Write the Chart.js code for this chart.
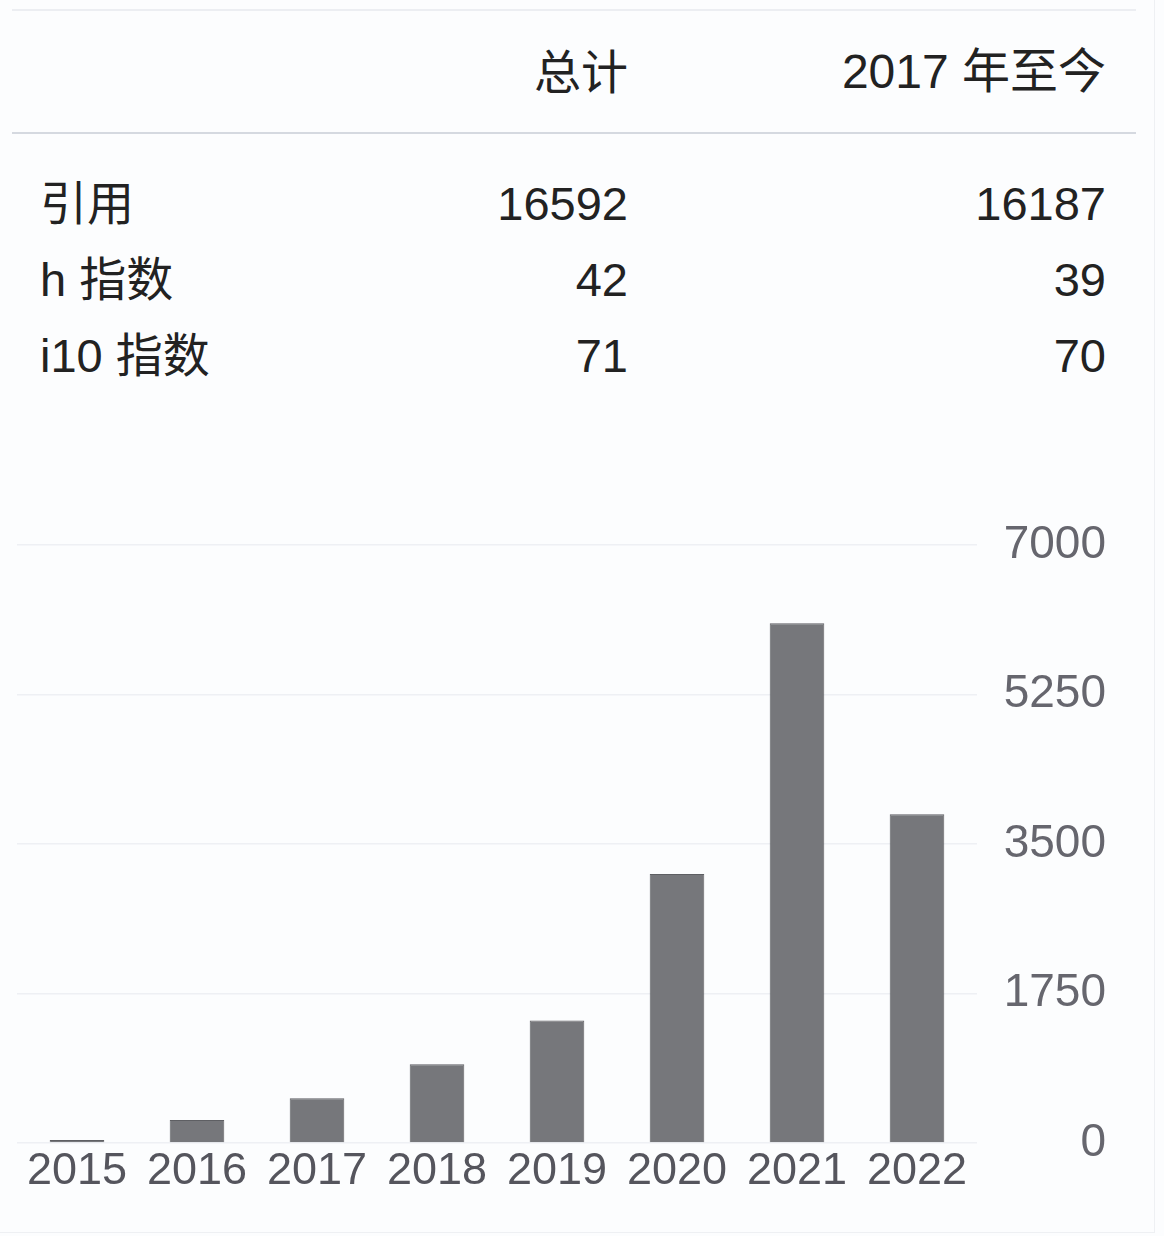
<!DOCTYPE html>
<html>
<head>
<meta charset="utf-8">
<script src="https://cdn.jsdelivr.net/npm/chart.js@4"></script>
<style>
  html, body { margin:0; padding:0; background:#fcfdfe; }
  body { width:1164px; height:1236px; position:relative; overflow:hidden;
         font-family: "Liberation Sans", Arial, "Noto Sans CJK SC", sans-serif; color:#222; }
  .frame { position:absolute; left:0; top:0; width:1154px; height:1232px;
           border-right:1px solid #eef0f3; border-bottom:1px solid #eef0f3; }
  .topline { position:absolute; left:12px; top:9px; width:1124px; height:2px; background:#eceef2; }
  .midline { position:absolute; left:12px; top:132px; width:1124px; height:2px; background:#d5d9e0; }
  .cell { position:absolute; font-size:47px; line-height:1; white-space:nowrap; }
  #wrap { position:absolute; left:0; top:502px; width:1164px; height:734px; }
</style>
</head>
<body>
<div class="frame"></div>
<div class="topline"></div>
<div class="midline"></div>
<div id="table"></div>
<div id="wrap"><canvas id="c"></canvas></div>
<script>
// ---- data ----
const headers = ["总计", "2017 年至今"];
const rowLabels = ["引用", "h 指数", "i10 指数"];
const totalValues = [16592, 42, 71];
const sinceValues = [16187, 39, 70];
const years = ["2015", "2016", "2017", "2018", "2019", "2020", "2021", "2022"];
const citations = [35, 268, 525, 922, 1435, 3150, 6085, 3848];
const yTicks = [0, 1750, 3500, 5250, 7000];

// ---- table (real text) ----
const t = document.getElementById('table');
function addCell(text, pos, top, right, size) {
  const d = document.createElement('div');
  d.className = 'cell';
  d.textContent = text;
  d.style.top = top + 'px';
  if (size) d.style.fontSize = size + 'px';
  if (right) { d.style.right = pos + 'px'; } else { d.style.left = pos + 'px'; }
  t.appendChild(d);
}
addCell(headers[0], 1164 - 628, 49, true);
addCell(headers[1], 1164 - 1106, 48, true, 48);
const rowTops = [180, 256, 332];
rowLabels.forEach((lab, i) => {
  addCell(lab, 40, rowTops[i], false);
  addCell(String(totalValues[i]), 1164 - 628, rowTops[i], true);
  addCell(String(sinceValues[i]), 1164 - 1106, rowTops[i], true);
});

// ---- chart ----
const ctx = document.getElementById('c');
new Chart(ctx, {
  type: 'bar',
  data: {
    labels: years,
    datasets: [{
      data: citations,
      backgroundColor: '#76777b',
      borderColor: '#5e5f63',
      borderWidth: 1,
      barPercentage: 0.455,
      categoryPercentage: 1.0
    }]
  },
  options: {
    responsive: true,
    maintainAspectRatio: false,
    animation: false,
    layout: { padding: { left: 17, top: 43, right: 58, bottom: 0 } },
    plugins: { legend: { display: false }, tooltip: { enabled: false } },
    scales: {
      x: {
        grid: { display: false },
        border: { display: false },
        ticks: { color: '#55555d', font: { size: 45, family: '"Liberation Sans", Arial, sans-serif' }, padding: -6, maxRotation: 0 },
        afterFit: (s) => { s.height = 93; }
      },
      y: {
        position: 'right',
        min: 0, max: 7000,
        afterBuildTicks: (s) => { s.ticks = yTicks.map(v => ({ value: v })); },
        grid: { color: '#eef0f4', lineWidth: 1.5, drawTicks: false },
        border: { display: false },
        ticks: { color: '#66666e', crossAlign: 'far', padding: 0,
                 callback: (v) => String(v),
                 font: { size: 46, family: '"Liberation Sans", Arial, sans-serif' } },
        afterFit: (s) => { s.width = 129; }
      }
    }
  }
});
</script>
</body>
</html>
